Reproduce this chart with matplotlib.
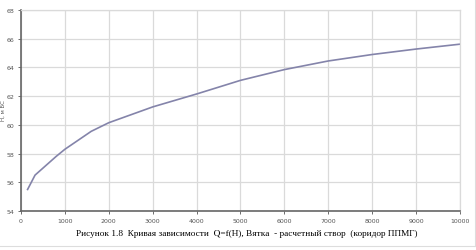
import matplotlib.pyplot as plt
from matplotlib.lines import Line2D

# rating curve Q=f(H)
q_vals = [150, 320, 800, 1000, 1600, 2000, 3000, 4000, 5000, 6000, 7000, 8000, 9000, 10000]
h_vals = [55.5, 56.5, 57.8, 58.3, 59.55, 60.15, 61.25, 62.15, 63.1, 63.85, 64.45, 64.9, 65.28, 65.62]
x_ticks = list(range(0, 10001, 1000))
y_ticks = list(range(54, 69, 2))

fig = plt.figure(figsize=(4.77, 2.51), dpi=100)
ax = fig.add_axes([21/477, 39/251, 439/477, 201/251])

ax.plot(q_vals, h_vals, color='#8484aa', lw=1.2)

ax.set_xlim(0, 10000)
ax.set_ylim(54, 68)
ax.set_xticks(x_ticks)
ax.set_yticks(y_ticks)
ax.grid(True, color='#dadada', lw=0.9)
ax.tick_params(labelsize=4.5, colors='#555555', length=2, width=0.6, pad=3)
for s in ['top', 'right']:
    ax.spines[s].set_color('#dadada')
    ax.spines[s].set_linewidth(0.9)
for s in ['left', 'bottom']:
    ax.spines[s].set_color('#666666')
    ax.spines[s].set_linewidth(1.2)

fig.text(3/477, 140/251, 'Н, м БС', rotation=90, fontsize=4, color='#555555',
         ha='center', va='center')

fig.text(247/477, 17/251, 'Рисунок 1.8  Кривая зависимости  Q=f(H), Вятка  - расчетный створ  (коридор ППМГ)',
         ha='center', va='center', fontsize=6.7, family='Liberation Serif')

# faint frame of the original chart area
fig.add_artist(Line2D([0, 475/477], [4/251, 4/251], color='#dddddd', lw=0.8))
fig.add_artist(Line2D([475/477, 475/477], [4/251, 1], color='#dddddd', lw=0.8))

plt.savefig('out.png', dpi=100)
